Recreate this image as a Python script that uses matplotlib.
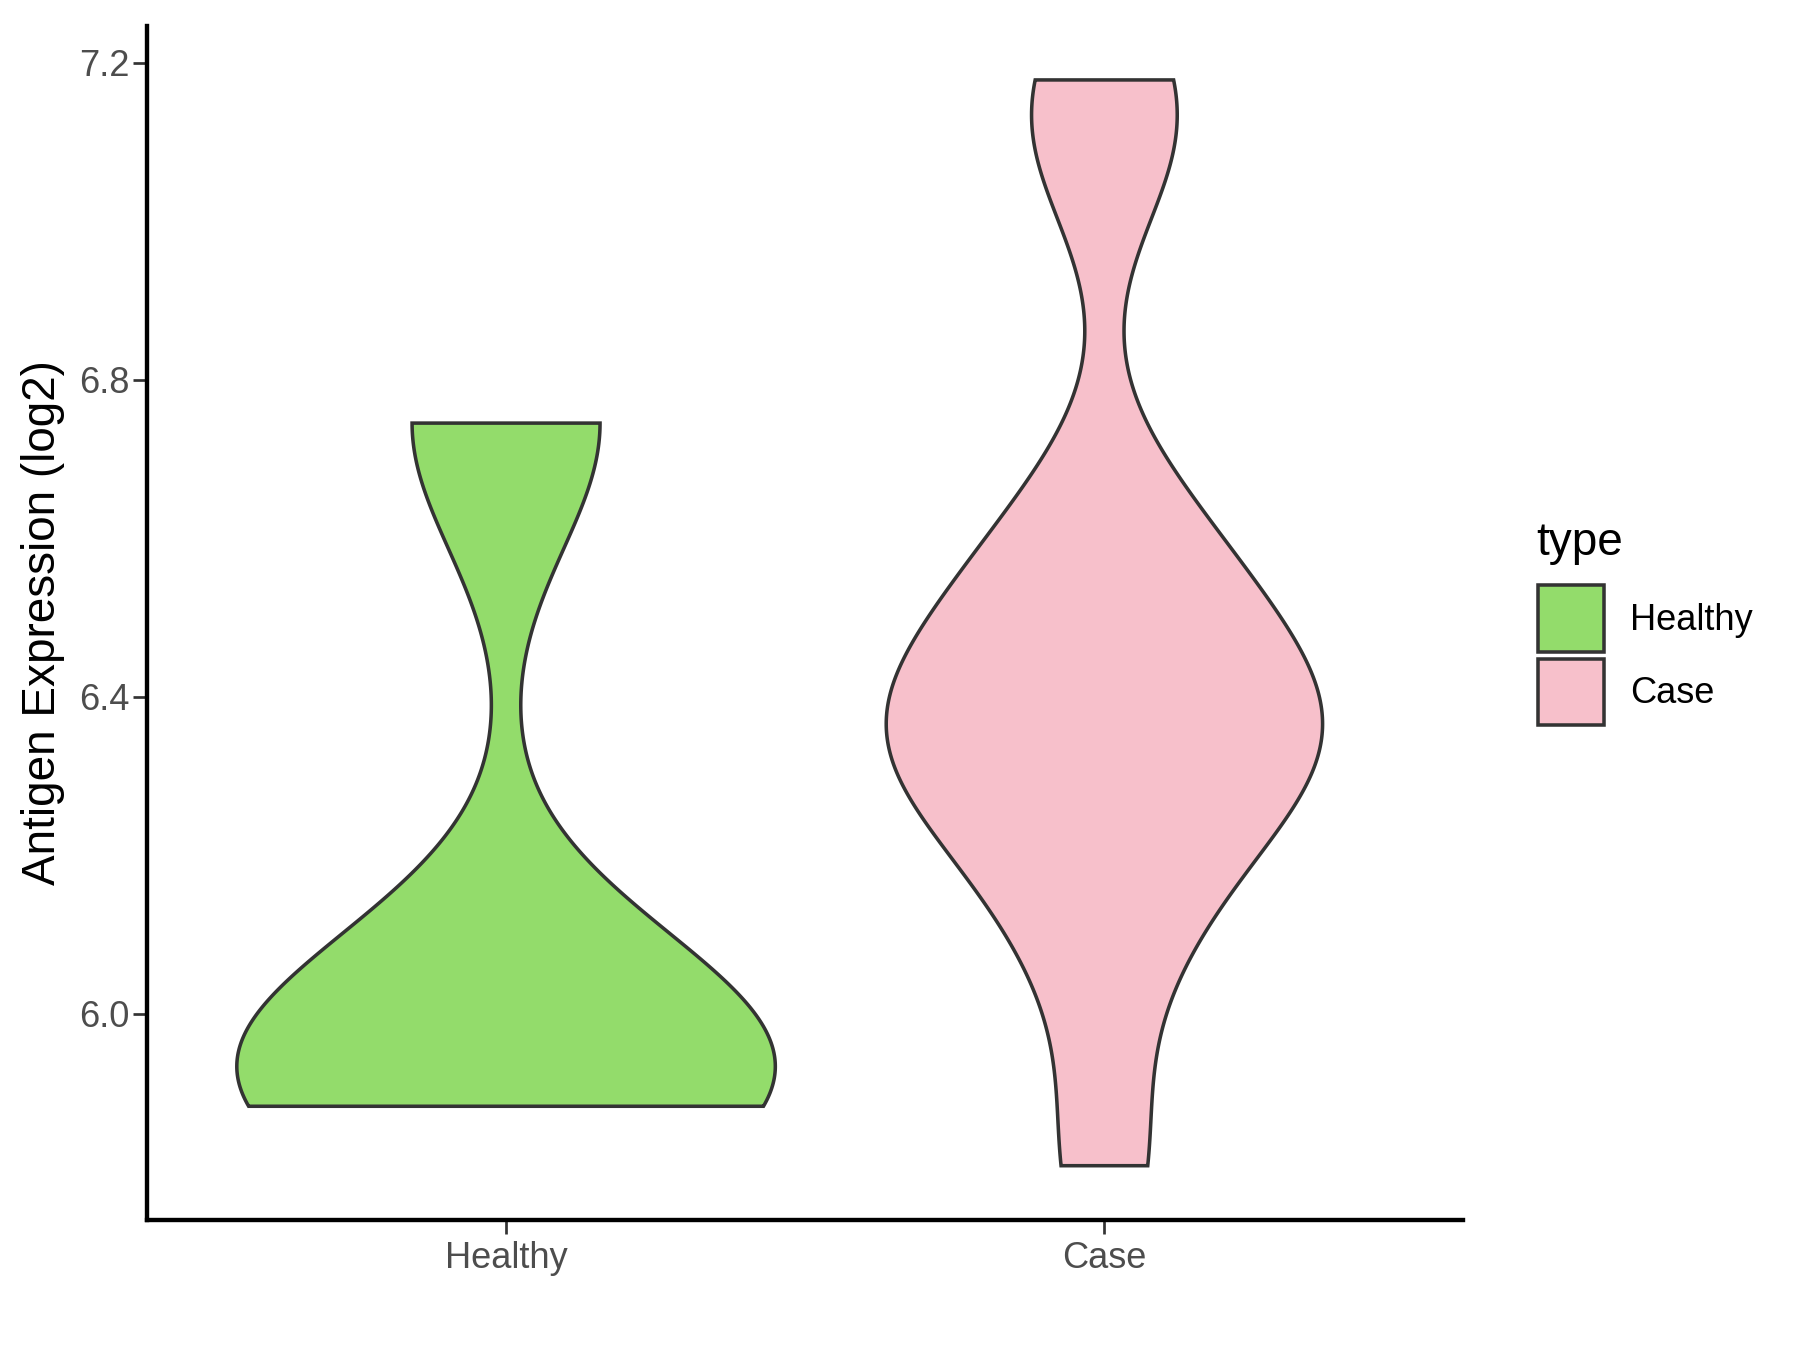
import numpy as np
import matplotlib
matplotlib.use("Agg")
import matplotlib.pyplot as plt
from matplotlib.patches import Patch

# 데이터
groups = ["Healthy", "Case"]
healthy_vals = [5.883, 5.92, 6.0, 6.745]
case_vals = [5.808, 6.08, 6.2, 6.3, 6.33, 6.35, 6.4, 6.45, 6.55, 6.62, 7.09, 7.178]
fill_colors = ["#93DC6B", "#F7C0CB"]
bandwidths = [0.16, 0.13]  # kde 대역폭
y_ticks = [6.0, 6.4, 6.8, 7.2]
y_label = "Antigen Expression (log2)"
legend_title = "type"

edge = "#333333"
text_gray = "#4D4D4D"


def kde(vals, bw, grid):
    # 가우시안 커널 밀도
    vals = np.asarray(vals)
    z = (grid[:, None] - vals[None, :]) / bw
    return np.exp(-0.5 * z ** 2).sum(axis=1) / (len(vals) * bw * np.sqrt(2 * np.pi))


plt.rcParams["font.family"] = ["Liberation Sans", "DejaVu Sans"]

fig = plt.figure(figsize=(12, 9), dpi=150)
ax = fig.add_axes([0.0817, 0.0963, 0.7313, 0.8847])

# 그룹별 밀도 계산 (데이터 범위에서 자름)
dens = []
for vals, bw in zip([healthy_vals, case_vals], bandwidths):
    grid = np.linspace(min(vals), max(vals), 512)
    dens.append((grid, kde(vals, bw, grid)))
dmax = max(d.max() for g, d in dens)  # scale = "area"

for i, (grid, d) in enumerate(dens):
    pos = i + 1
    w = d / dmax * 0.45
    xs = np.concatenate([pos - w, (pos + w)[::-1]])
    ys = np.concatenate([grid, grid[::-1]])
    ax.fill(xs, ys, facecolor=fill_colors[i], edgecolor=edge, linewidth=1.7)

# 축 범위 (5% 여백)
all_vals = healthy_vals + case_vals
lo, hi = min(all_vals), max(all_vals)
pad = (hi - lo) * 0.05
ax.set_ylim(lo - pad, hi + pad)
ax.set_xlim(0.4, 2.6)

ax.set_xticks([1, 2])
ax.set_xticklabels(groups)
ax.set_yticks(y_ticks)
ax.set_yticklabels([f"{t:.1f}" for t in y_ticks])
ax.tick_params(length=6.5, width=1.3, color=edge, labelcolor=text_gray, labelsize=17.4)
ax.tick_params(axis="y", pad=2)
ax.tick_params(axis="x", pad=3.5)

for s in ["top", "right"]:
    ax.spines[s].set_visible(False)
for s in ["left", "bottom"]:
    ax.spines[s].set_linewidth(2.1)
    ax.spines[s].set_color("black")

ax.set_ylabel(y_label, fontsize=22, color="black")
ax.yaxis.set_label_coords(-0.062, 0.5)

# 범례
fig.text(0.8533, 0.6142, legend_title, fontsize=22, ha="left", va="top")
handles = [Patch(facecolor=c, edgecolor=edge, linewidth=1.7) for c in fill_colors]
fig.legend(handles, groups, loc="upper left",
           bbox_to_anchor=(0.8544, 0.5663), frameon=False, fontsize=17.4,
           handlelength=1.82, handleheight=2.45,
           labelspacing=0.18, handletextpad=0.73, borderpad=0, borderaxespad=0)

fig.savefig("out.png", dpi=150)
